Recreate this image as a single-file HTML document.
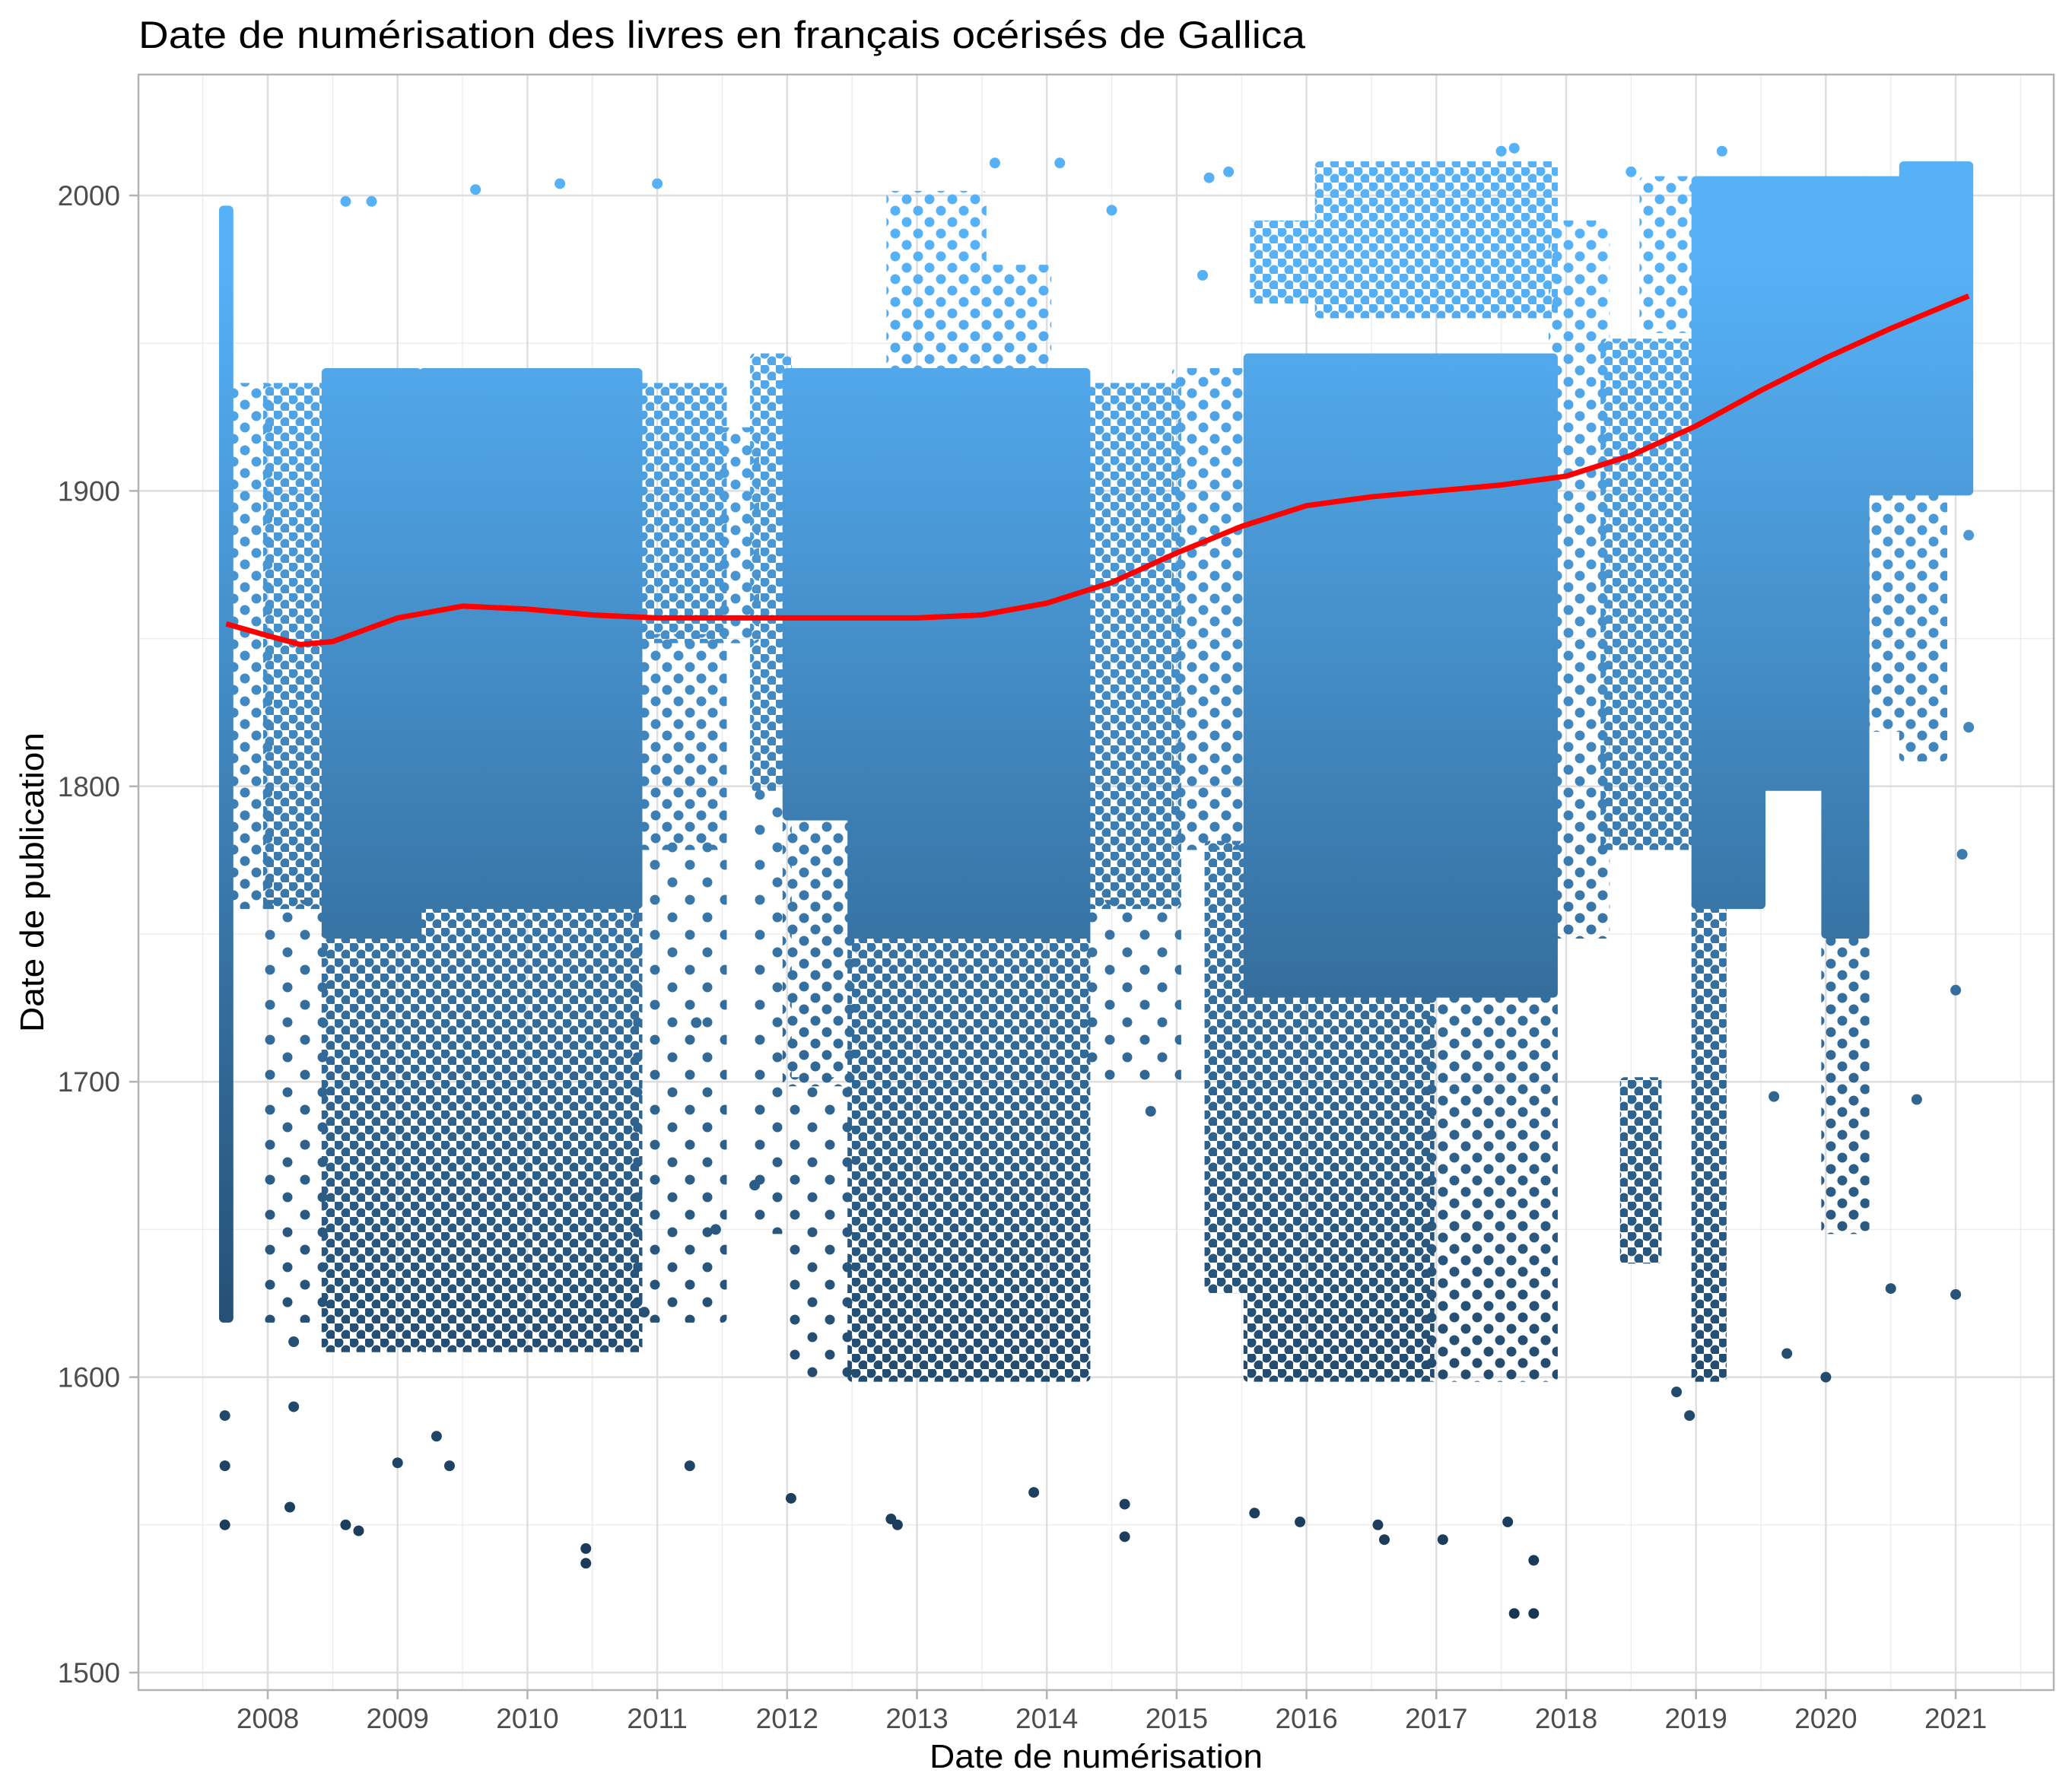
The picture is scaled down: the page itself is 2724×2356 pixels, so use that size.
<!DOCTYPE html>
<html><head><meta charset="utf-8"><style>
html,body{margin:0;padding:0;background:#fff;}
svg{display:block;font-family:"Liberation Sans",sans-serif;}
</style></head><body>
<svg id="chart" width="2724" height="2356" viewBox="0 0 2724 2356" xmlns="http://www.w3.org/2000/svg">
<defs>
<linearGradient id="grad" gradientUnits="userSpaceOnUse" x1="0" y1="2274" x2="0" y2="348">
<stop offset="0" stop-color="#132B43"/><stop offset="1" stop-color="#56B1F7"/>
</linearGradient>
<clipPath id="clip"><rect x="182" y="98" width="2518" height="2124"/></clipPath>
<pattern id="pat1" patternUnits="userSpaceOnUse" width="20" height="20"><circle cx="5" cy="5" r="6.5" fill="#fff"/><circle cx="15" cy="15" r="6.5" fill="#fff"/></pattern>
<pattern id="pat2" patternUnits="userSpaceOnUse" width="30" height="30"><circle cx="7" cy="7" r="6.5" fill="#fff"/><circle cx="22" cy="22" r="6.5" fill="#fff"/></pattern>
<pattern id="pat3" patternUnits="userSpaceOnUse" width="46" height="46"><circle cx="10" cy="10" r="6.5" fill="#fff"/><circle cx="33" cy="33" r="6.5" fill="#fff"/></pattern>
<mask id="m1" maskUnits="userSpaceOnUse" x="0" y="0" width="2724" height="2356"><rect x="0" y="0" width="2724" height="2356" fill="url(#pat1)"/></mask>
<mask id="m2" maskUnits="userSpaceOnUse" x="0" y="0" width="2724" height="2356"><rect x="0" y="0" width="2724" height="2356" fill="url(#pat2)"/></mask>
<mask id="m3" maskUnits="userSpaceOnUse" x="0" y="0" width="2724" height="2356"><rect x="0" y="0" width="2724" height="2356" fill="url(#pat3)"/></mask>
</defs>
<rect x="0" y="0" width="2724" height="2356" fill="#fff"/>
<g id="grid"></g>
<g clip-path="url(#clip)">
<g id="g3" mask="url(#m3)"></g>
<g id="g2" mask="url(#m2)"></g>
<g id="g1" mask="url(#m1)"></g>
<g id="g0"></g>
</g>
<path id="loess" fill="none" stroke="#FF0000" stroke-width="7" stroke-linejoin="round"/>
<rect x="182" y="98" width="2518" height="2124" fill="none" stroke="#B3B3B3" stroke-width="2.5"/>
<g id="axes"></g>
<text x="182" y="63" font-size="50" fill="#000" textLength="1534" lengthAdjust="spacingAndGlyphs">Date de numérisation des livres en français océrisés de Gallica</text>
<text x="1441" y="2324" font-size="44" text-anchor="middle" fill="#000" textLength="438" lengthAdjust="spacingAndGlyphs">Date de numérisation</text>
<text transform="translate(57,1160) rotate(-90)" font-size="44" text-anchor="middle" fill="#000" textLength="394" lengthAdjust="spacingAndGlyphs">Date de publication</text>
</svg>
<script>
const xTicks=[2008,2009,2010,2011,2012,2013,2014,2015,2016,2017,2018,2019,2020,2021];
const yTicks=[1500,1600,1700,1800,1900,2000];
const bandX0=[2007.66,2007.70,2008.0,2008.0,2008.45,2008.45,2009.2,2009.2,2010.85,2010.85,2010.85,2011.5,2011.75,2011.75,2012.0,2012.0,2012.0,2012.5,2012.5,2012.8,2013.5,2014.3,2014.3,2015.0,2015.25,2015.55,2015.55,2016.95,2015.6,2016.1,2017.9,2018.3,2018.45,2018.6,2019.0,2019.0,2019.5,2020.0,2020.0,2020.3,2020.3,2020.6,2020.6];
const bandX1=[2007.70,2008.0,2008.45,2008.45,2009.15,2009.15,2010.85,2010.85,2011.5,2011.5,2011.5,2011.75,2012.0,2012.0,2012.5,2012.5,2012.5,2014.3,2014.3,2013.5,2014.0,2015.0,2015.0,2015.5,2015.55,2017.9,2016.95,2017.9,2016.1,2017.9,2018.3,2019.0,2018.7,2019.0,2019.5,2019.2,2020.0,2020.3,2020.3,2020.6,2020.6,2021.1,2020.9];
const bandLo=[1620,1760,1760,1620,1750,1610,1760,1610,1850,1780,1620,1850,1800,1650,1790,1700,1600,1750,1600,1940,1940,1760,1700,1780,1630,1730,1600,1600,1965,1960,1750,1780,1640,1955,1760,1600,1800,1750,1650,1900,1820,1900,1810];
const bandHi=[1995,1935,1935,1760,1940,1750,1940,1760,1935,1850,1780,1920,1945,1800,1940,1790,1700,1940,1750,2000,1975,1935,1760,1940,1780,1945,1730,1730,1990,2010,1990,1950,1700,2005,2005,1760,2005,2005,1750,2005,1900,2010,1900];
const bandDensity=[1,0.35,0.75,0.25,1,0.6,1,0.55,0.6,0.35,0.12,0.4,0.5,0.15,1,0.3,0.15,1,0.5,0.35,0.3,0.55,0.15,0.45,0.6,1,0.55,0.35,0.6,0.65,0.45,0.5,0.55,0.35,1,0.65,0.9,1,0.4,1,0.4,1,0.45];
const outX=[2007.67,2007.67,2007.67,2008.17,2008.6,2008.7,2008.2,2009.0,2009.3,2009.4,2010.45,2010.45,2011.25,2012.03,2012.8,2012.85,2013.9,2014.6,2014.6,2015.6,2015.95,2016.55,2016.6,2017.05,2017.6,2017.75,2017.75,2017.55,2018.95,2018.85,2020.0,2020.5,2021.0,2021.0,2020.7,2019.7,2019.6,2008.2,2010.9,2011.45,2011.75,2011.3,2014.8,2021.1,2021.05,2021.1,2011.0,2010.25,2009.6,2008.6,2008.8,2013.6,2014.1,2014.5,2015.2,2015.25,2015.4,2019.2,2017.6,2017.5,2018.5];
const outY=[1550,1570,1587,1556,1550,1548,1590,1571,1580,1570,1542,1537,1570,1559,1552,1550,1561,1546,1557,1554,1551,1550,1545,1545,1520,1520,1538,1551,1587,1595,1600,1630,1628,1731,1694,1608,1695,1612,1622,1650,1665,1720,1690,1820,1777,1885,2004,2004,2002,1998,1998,2011,2011,1995,1973,2006,2008,2015,2016,2015,2008];
const lineX=[2007.68,2008.0,2008.25,2008.5,2008.75,2009.0,2009.5,2010.0,2010.5,2011.0,2012.0,2013.0,2013.5,2014.0,2014.5,2015.0,2015.5,2016.0,2016.5,2017.0,2017.5,2018.0,2018.5,2019.0,2019.5,2020.0,2020.5,2021.1];
const lineY=[1855,1851,1848,1849,1853,1857,1861,1860,1858,1857,1857,1857,1858,1862,1869,1879,1888,1895,1898,1900,1902,1905,1912,1922,1934,1945,1955,1966];

const NS='http://www.w3.org/2000/svg';
function sx(v){return 352+(v-2008)*170.7;}
function sy(v){return 2199-(v-1500)*3.884;}
function mk(tag,attrs,parent){const e=document.createElementNS(NS,tag);for(const k in attrs)e.setAttribute(k,attrs[k]);parent.appendChild(e);return e;}
const grid=document.getElementById('grid'),axes=document.getElementById('axes');
const groups=[document.getElementById('g0'),document.getElementById('g1'),document.getElementById('g2'),document.getElementById('g3')];
for(let v=2007.5;v<=2021.5;v+=1){const l=mk('line',{x1:sx(v),x2:sx(v),y1:98,y2:2222,stroke:'#EBEBEB','stroke-width':1.3},grid);

}
for(let v=1550;v<=2050;v+=100){const yy=sy(v);if(yy<98)continue;const l=mk('line',{x1:182,x2:2700,y1:yy,y2:yy,stroke:'#EBEBEB','stroke-width':1.3},grid);

}
xTicks.forEach(t=>{const l=mk('line',{x1:sx(t),x2:sx(t),y1:98,y2:2222,stroke:'#DEDEDE','stroke-width':2.5},grid);


const tk=mk('line',{x1:sx(t),x2:sx(t),y1:2222,y2:2234,stroke:'#B3B3B3','stroke-width':2.5},axes);


const tx=mk('text',{x:sx(t),y:2272,'font-size':37,'text-anchor':'middle',fill:'#4D4D4D'},axes);tx.textContent=t;

});
yTicks.forEach(t=>{const l=mk('line',{x1:182,x2:2700,y1:sy(t),y2:sy(t),stroke:'#DEDEDE','stroke-width':2.5},grid);


const tk=mk('line',{x1:170,x2:182,y1:sy(t),y2:sy(t),stroke:'#B3B3B3','stroke-width':2.5},axes);


const tx=mk('text',{x:158,y:sy(t)+13,'font-size':37,'text-anchor':'end',fill:'#4D4D4D'},axes);tx.textContent=t;

});
for(let i=0;i<bandX0.length;i++){const d=bandDensity[i];
const gi=d>=0.9?0:(d>=0.5?1:(d>=0.3?2:3));
const x0=sx(bandX0[i])-6,x1=sx(bandX1[i])+6,y0=sy(bandHi[i])-6,y1=sy(bandLo[i])+6;
const r=mk('rect',{x:x0,y:y0,width:x1-x0,height:y1-y0,rx:6,fill:'url(#grad)'},groups[gi]);

}
for(let i=0;i<outX.length;i++){const c=mk('circle',{cx:sx(outX[i]),cy:sy(outY[i]),r:7,fill:'url(#grad)'},groups[0]);

}
document.getElementById('loess').setAttribute('d',lineX.map((v,i)=>(i?'L':'M')+sx(v).toFixed(1)+','+sy(lineY[i]).toFixed(1)).join(''));
</script>
</body></html>
